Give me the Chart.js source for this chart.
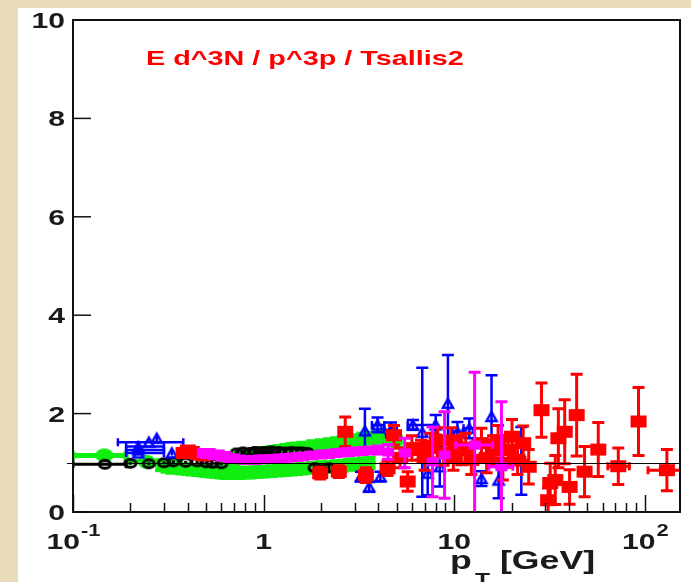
<!DOCTYPE html>
<html>
<head>
<meta charset="utf-8">
<script src="https://cdn.jsdelivr.net/npm/chart.js@4.4.1/dist/chart.umd.min.js"></script>
<style>
  html, body { margin: 0; padding: 0; background: #e8dcb8; }
</style>
</head>
<body>
<canvas id="grafico" width="691" height="582"></canvas>
<script>
// Textos e ticks
const titulo = "E d^3N / p^3p / Tsallis2";
const xTicks = [0.1, 1, 10, 100];
const xTickLabels = [["10", "-1"], ["1", ""], ["10", ""], ["10", "2"]];
const yTicks = [0, 2, 4, 6, 8, 10];

// Preto (círculos abertos)
const pretoPt  = [0.147, 0.20, 0.25, 0.30, 0.336, 0.39, 0.448, 0.50, 0.54, 0.60, 0.72, 0.78, 0.85, 0.90, 0.95, 1.00, 1.05, 1.10, 1.20, 1.30, 1.40, 1.50, 1.60, 1.70, 1.85, 2.00, 2.20];
const pretoVal = [0.97, 0.99, 0.98, 1.00, 1.02, 1.01, 1.02, 1.00, 0.99, 0.98, 1.20, 1.22, 1.21, 1.23, 1.22, 1.23, 1.22, 1.24, 1.23, 1.22, 1.23, 1.22, 1.22, 1.21, 0.90, 0.86, 0.90];
const pretoErr = [0.03, 0.03, 0.03, 0.03, 0.03, 0.03, 0.03, 0.03, 0.03, 0.03, 0.05, 0.05, 0.05, 0.05, 0.05, 0.05, 0.05, 0.05, 0.05, 0.05, 0.05, 0.05, 0.05, 0.05, 0.06, 0.06, 0.06];
const pretoBins = { 0.147: [0.10, 0.19] };

// Verde (pontos grandes em pT baixo)
const verdeGrandePt  = [0.146, 0.244];
const verdeGrandeVal = [1.15, 1.02];
const verdeGrandeErr = [0.02, 0.02];
const verdeGrandeBins = { 0.146: [0.10, 0.19], 0.244: [0.19, 0.32] };

// Verde, faixa de baixo
const verdeBaixoPt  = [0.29, 0.31, 0.33, 0.35, 0.37, 0.40, 0.42, 0.45, 0.48, 0.50, 0.53, 0.56, 0.60, 0.63, 0.67, 0.70, 0.75, 0.80, 0.85, 0.90, 0.95, 1.0, 1.1, 1.2, 1.3, 1.4, 1.5, 1.6, 1.8, 2.0, 2.2, 2.4, 2.6, 2.8, 3.0, 3.3, 3.6];
const verdeBaixoVal = [0.95, 0.92, 0.90, 0.93, 0.88, 0.87, 0.86, 0.85, 0.84, 0.83, 0.82, 0.81, 0.80, 0.79, 0.79, 0.79, 0.79, 0.80, 0.80, 0.81, 0.82, 0.82, 0.83, 0.84, 0.85, 0.86, 0.87, 0.88, 0.90, 0.91, 0.92, 0.93, 0.94, 0.96, 0.97, 0.99, 1.00];
const verdeBaixoErr = [0.10, 0.10, 0.10, 0.10, 0.10, 0.10, 0.10, 0.10, 0.10, 0.10, 0.10, 0.10, 0.10, 0.10, 0.10, 0.10, 0.10, 0.10, 0.10, 0.10, 0.10, 0.10, 0.10, 0.10, 0.10, 0.10, 0.10, 0.10, 0.10, 0.10, 0.10, 0.10, 0.10, 0.10, 0.10, 0.10, 0.10];

// Verde, faixa de cima
const verdeAltoPt  = [0.60, 0.65, 0.70, 0.75, 0.80, 0.85, 0.90, 0.95, 1.0, 1.1, 1.2, 1.3, 1.4, 1.5, 1.6, 1.8, 2.0, 2.2, 2.4, 2.6, 2.8, 3.0, 3.3, 3.6, 4.0, 4.5, 5.0];
const verdeAltoVal = [1.02, 1.05, 1.08, 1.10, 1.12, 1.14, 1.16, 1.18, 1.19, 1.21, 1.23, 1.25, 1.27, 1.28, 1.30, 1.33, 1.35, 1.37, 1.39, 1.41, 1.43, 1.45, 1.48, 1.50, 1.52, 1.48, 1.42];
const verdeAltoErr = [0.11, 0.11, 0.11, 0.11, 0.11, 0.11, 0.11, 0.11, 0.11, 0.11, 0.11, 0.11, 0.11, 0.11, 0.11, 0.11, 0.11, 0.11, 0.11, 0.11, 0.11, 0.11, 0.11, 0.11, 0.11, 0.11, 0.11];

// Magenta
const magentaPt  = [0.48, 0.50, 0.52, 0.55, 0.58, 0.60, 0.63, 0.66, 0.70, 0.75, 0.80, 0.85, 0.90, 0.95, 1.0, 1.1, 1.2, 1.3, 1.4, 1.5, 1.6, 1.8, 2.0, 2.2, 2.4, 2.6, 2.8, 3.0, 3.3, 3.6, 4.0, 4.5, 5.5, 7.7, 8.9, 12.8, 17.7];
const magentaVal = [1.20, 1.18, 1.20, 1.15, 1.17, 1.12, 1.14, 1.10, 1.09, 1.07, 1.06, 1.06, 1.06, 1.07, 1.07, 1.08, 1.09, 1.10, 1.11, 1.12, 1.13, 1.15, 1.17, 1.18, 1.20, 1.21, 1.22, 1.23, 1.24, 1.25, 1.26, 1.22, 1.20, 1.02, 1.16, 1.36, 0.92];
const magentaErr = [0.07, 0.07, 0.07, 0.07, 0.07, 0.07, 0.07, 0.07, 0.07, 0.07, 0.07, 0.07, 0.07, 0.07, 0.07, 0.07, 0.07, 0.07, 0.07, 0.07, 0.07, 0.07, 0.07, 0.07, 0.07, 0.07, 0.07, 0.07, 0.07, 0.07, 0.08, 0.15, 0.30, 0.71, 0.88, 1.48, 1.32];
const magentaBins = { 12.8: [10.2, 15.9], 17.7: [15.2, 20.3] };

// Azul (triângulos abertos)
const azulPt  = [0.25, 0.22, 0.22, 0.22, 0.275, 0.33, 3.24, 3.4, 3.58, 3.96, 4.1, 4.66, 6.07, 6.8, 7.26, 8.0, 8.4, 9.27, 10.4, 12.0, 13.9, 15.7, 17.1, 22.5];
const azulVal = [1.42, 1.33, 1.26, 1.20, 1.50, 1.20, 0.72, 1.65, 0.51, 1.77, 0.72, 1.67, 1.77, 1.62, 0.79, 1.77, 0.92, 2.21, 1.63, 1.70, 0.68, 1.94, 0.65, 1.04];
const azulErr = [0.03, 0.03, 0.03, 0.03, 0.06, 0.05, 0.10, 0.45, 0.10, 0.15, 0.10, 0.15, 0.10, 1.31, 0.45, 0.20, 0.40, 0.98, 0.20, 0.20, 0.15, 0.84, 0.37, 0.69];
const azulBins = { 0.25: [0.172, 0.379], 0.22: [0.19, 0.30], 3.96: [3.7, 4.3], 4.66: [4.3, 5.0], 6.07: [5.7, 7.9], 10.4: [9.8, 11.1], 12.0: [11.2, 12.8] };

// Vermelho (quadrados cheios)
const vermelhoPt  = [0.38, 0.40, 0.42, 0.45, 0.48, 1.98, 2.48, 2.68, 3.44, 4.47, 4.83, 5.2, 5.7, 6.0, 6.7, 7.0, 7.5, 8.2, 8.8, 9.6, 9.9, 10.9, 11.5, 12.3, 13.9, 14.8, 16.0, 17.0, 18.0, 19.2, 20.1, 21.5, 23.0, 24.6, 28.7, 31.1, 31.9, 33.9, 35.2, 38.0, 40.3, 43.9, 48.3, 57.0, 72.6, 92.7, 130.6];
const vermelhoVal = [1.20, 1.25, 1.22, 1.18, 1.15, 0.79, 0.82, 1.63, 0.75, 0.89, 1.56, 1.10, 0.62, 1.30, 1.26, 1.10, 1.35, 1.46, 1.20, 1.46, 1.10, 1.26, 1.30, 1.06, 1.40, 1.10, 1.25, 1.46, 1.00, 1.26, 1.53, 1.06, 1.40, 0.92, 2.07, 0.24, 0.59, 0.65, 1.50, 1.63, 0.51, 1.97, 0.82, 1.27, 0.93, 1.84, 0.85];
const vermelhoErr = [0.08, 0.08, 0.08, 0.08, 0.08, 0.12, 0.12, 0.30, 0.15, 0.15, 0.20, 0.20, 0.20, 0.25, 0.20, 0.25, 0.25, 0.25, 0.25, 0.25, 0.25, 0.30, 0.30, 0.30, 0.30, 0.30, 0.30, 0.30, 0.35, 0.30, 0.35, 0.30, 0.35, 0.35, 0.55, 0.25, 0.40, 0.50, 0.60, 0.65, 0.35, 0.83, 0.51, 0.55, 0.37, 0.69, 0.42];
const vermelhoBins = { 9.6: [8.6, 10.6], 13.9: [12.5, 15.5], 21.5: [19.5, 23.5], 72.6: [64, 83], 130.6: [104, 158] };

const FONTE = '"Liberation Sans", Arial, sans-serif';
const ESTICA = 1.37; // o original está esticado na horizontal

// Monta os pontos {x, y, e, bin}
function serie(pt, val, err, bins = {}) {
  return pt.map((x, i) => ({ x, y: val[i], e: err[i], bin: bins[x] || null }));
}

// Marcadores desenhados em canvas (mais largos que altos)
function marcador(w, h, forma, cor, cheio, lw = 2) {
  const c = document.createElement("canvas");
  c.width = w + 4; c.height = h + 4;
  const g = c.getContext("2d");
  g.fillStyle = cor; g.strokeStyle = cor; g.lineWidth = lw;
  const cx = c.width / 2, cy = c.height / 2;
  g.beginPath();
  if (forma === "circ") g.ellipse(cx, cy, w / 2 - (cheio ? 0 : lw / 2), h / 2 - (cheio ? 0 : lw / 2), 0, 0, Math.PI * 2);
  else if (forma === "tri") { g.moveTo(cx, cy - h / 2 + 1); g.lineTo(cx + w / 2 - 1, cy + h / 2 - 1); g.lineTo(cx - w / 2 + 1, cy + h / 2 - 1); g.closePath(); }
  else g.rect(cx - w / 2, cy - h / 2, w, h);
  if (cheio) g.fill(); else g.stroke();
  return c;
}

function dataset(nome, dados, cor, estilo, larguraBarra) {
  return {
    label: nome, data: dados, pointStyle: estilo, corBarra: cor, larguraBarra,
    pointRadius: 6, pointHoverRadius: 6, showLine: false
  };
}

// Texto esticado na horizontal
function texto(ctx, s, x, y, tam, cor, alinhar = "left") {
  ctx.save();
  ctx.font = `bold ${tam}px ${FONTE}`;
  ctx.fillStyle = cor;
  ctx.textBaseline = "alphabetic";
  const w = ctx.measureText(s).width * ESTICA;
  let x0 = x;
  if (alinhar === "right") x0 = x - w;
  if (alinhar === "center") x0 = x - w / 2;
  ctx.translate(x0, y);
  ctx.scale(ESTICA, 1);
  ctx.fillText(s, 0, 0);
  ctx.restore();
  return w;
}
function largura(ctx, s, tam) {
  ctx.save(); ctx.font = `bold ${tam}px ${FONTE}`;
  const w = ctx.measureText(s).width * ESTICA;
  ctx.restore();
  return w;
}

// Fundo bege com a área branca
const fundo = {
  id: "fundo",
  beforeDraw(chart) {
    const ctx = chart.ctx;
    ctx.save();
    ctx.fillStyle = "#e8dcb8";
    ctx.fillRect(0, 0, chart.width, chart.height);
    ctx.fillStyle = "#ffffff";
    ctx.fillRect(18, 8, chart.width - 18, chart.height - 8);
    ctx.restore();
  }
};

// Barras de erro desenhadas antes de cada dataset
const barrasErro = {
  id: "barrasErro",
  beforeDatasetDraw(chart, args) {
    const ds = chart.data.datasets[args.index];
    const { ctx, chartArea: a, scales: { x, y } } = chart;
    ctx.save();
    ctx.beginPath();
    ctx.rect(a.left, a.top, a.right - a.left, a.bottom - a.top);
    ctx.clip();
    ctx.strokeStyle = ds.corBarra;
    ctx.lineWidth = ds.larguraBarra;
    const cap = 6;
    ds.data.forEach(p => {
      const px = x.getPixelForValue(p.x), py = y.getPixelForValue(p.y);
      ctx.beginPath();
      if (p.e) {
        const y1 = y.getPixelForValue(p.y + p.e), y2 = y.getPixelForValue(p.y - p.e);
        ctx.moveTo(px, y1); ctx.lineTo(px, y2);
        if (p.e > 0.06) {
          ctx.moveTo(px - cap, y1); ctx.lineTo(px + cap, y1);
          ctx.moveTo(px - cap, y2); ctx.lineTo(px + cap, y2);
        }
      }
      if (p.bin) {
        const x1 = x.getPixelForValue(p.bin[0]), x2 = x.getPixelForValue(p.bin[1]);
        ctx.moveTo(x1, py); ctx.lineTo(x2, py);
        ctx.moveTo(x1, py - 4); ctx.lineTo(x1, py + 4);
        ctx.moveTo(x2, py - 4); ctx.lineTo(x2, py + 4);
      }
      ctx.stroke();
    });
    ctx.restore();
  }
};

// Linha em y = 1
const linhaUm = {
  id: "linhaUm",
  afterDatasetsDraw(chart) {
    const { ctx, chartArea: a, scales: { y } } = chart;
    const py = Math.round(y.getPixelForValue(1)) + 0.5;
    ctx.save();
    ctx.strokeStyle = "#000";
    ctx.lineWidth = 1.2;
    ctx.beginPath();
    ctx.moveTo(a.left - 6, py); ctx.lineTo(a.right, py);
    ctx.stroke();
    ctx.restore();
  }
};

// Moldura, ticks para dentro e rótulos estilo ROOT
const moldura = {
  id: "moldura",
  afterDraw(chart) {
    const { ctx, chartArea: a, scales: { x, y } } = chart;
    const cor = "#1a1a1a";
    ctx.save();
    ctx.strokeStyle = "#111";
    ctx.lineWidth = 2;
    ctx.strokeRect(a.left, a.top, a.right - a.left, a.bottom - a.top);

    // ticks y
    ctx.lineWidth = 1.5;
    yTicks.forEach(v => {
      const py = y.getPixelForValue(v);
      ctx.beginPath(); ctx.moveTo(a.left, py); ctx.lineTo(a.left + 18, py); ctx.stroke();
      texto(ctx, String(v), a.left - 8, py + 8, 22, cor, "right");
    });

    // ticks x (maiores e menores)
    for (let d = -1; d <= 2; d++) {
      for (let k = 1; k <= 9; k++) {
        const v = k * Math.pow(10, d);
        if (v < x.min || v > x.max) continue;
        const px = Math.round(x.getPixelForValue(v)) + 0.5;
        const h = k === 1 ? 17 : 9;
        ctx.beginPath(); ctx.moveTo(px, a.bottom); ctx.lineTo(px, a.bottom - h); ctx.stroke();
      }
    }
    xTicks.forEach((v, i) => {
      const [base, exp] = xTickLabels[i];
      const px = x.getPixelForValue(v);
      const wb = largura(ctx, base, 22), we = exp ? largura(ctx, exp, 16) : 0;
      const x0 = px - (wb + we) / 2;
      texto(ctx, base, x0, 549, 22, cor);
      if (exp) texto(ctx, exp, x0 + wb + 1, 536, 16, cor);
    });

    // título do eixo x
    texto(ctx, "p", 450, 569, 26, cor);
    texto(ctx, "T", 475, 586, 18, cor);
    texto(ctx, "[GeV]", 500, 569, 26, cor);

    // título vermelho
    texto(ctx, titulo, 146, 65, 21, "#ff0000");
    ctx.restore();
  }
};

const ctx = document.getElementById("grafico").getContext("2d");
new Chart(ctx, {
  type: "scatter",
  data: {
    datasets: [
      dataset("magenta", serie(magentaPt, magentaVal, magentaErr, magentaBins), "#ff00ff", marcador(12, 9, "rect", "#ff00ff", true), 3),
      dataset("vermelho", serie(vermelhoPt, vermelhoVal, vermelhoErr, vermelhoBins), "#ff0000", marcador(16, 12, "rect", "#ff0000", true), 3),
      dataset("azul", serie(azulPt, azulVal, azulErr, azulBins), "#0000ff", marcador(12, 11, "tri", "#0000ff", false, 2.5), 2.5),
      dataset("preto", serie(pretoPt, pretoVal, pretoErr, pretoBins), "#000000", marcador(14, 11, "circ", "#000000", false, 3), 3),
      dataset("verdeAlto", serie(verdeAltoPt, verdeAltoVal, verdeAltoErr), "#11ee11", marcador(13, 10, "circ", "#11ee11", true), 4),
      dataset("verdeBaixo", serie(verdeBaixoPt, verdeBaixoVal, verdeBaixoErr), "#11ee11", marcador(13, 10, "circ", "#11ee11", true), 4),
      dataset("verdeGrande", serie(verdeGrandePt, verdeGrandeVal, verdeGrandeErr, verdeGrandeBins), "#11ee11", marcador(18, 14, "circ", "#11ee11", true), 5)
    ]
  },
  options: {
    responsive: false,
    animation: false,
    devicePixelRatio: 1,
    events: [],
    layout: { padding: { top: 20, right: 11, left: 0, bottom: 0 } },
    plugins: { legend: { display: false }, tooltip: { enabled: false } },
    scales: {
      x: {
        type: "logarithmic", min: 0.1, max: 153,
        ticks: { display: false }, grid: { display: false }, border: { display: false },
        afterFit(s) { s.height = 70; }
      },
      y: {
        type: "linear", min: 0, max: 10,
        ticks: { display: false }, grid: { display: false }, border: { display: false },
        afterFit(s) { s.width = 73; }
      }
    }
  },
  plugins: [fundo, barrasErro, linhaUm, moldura]
});
</script>
</body>
</html>
